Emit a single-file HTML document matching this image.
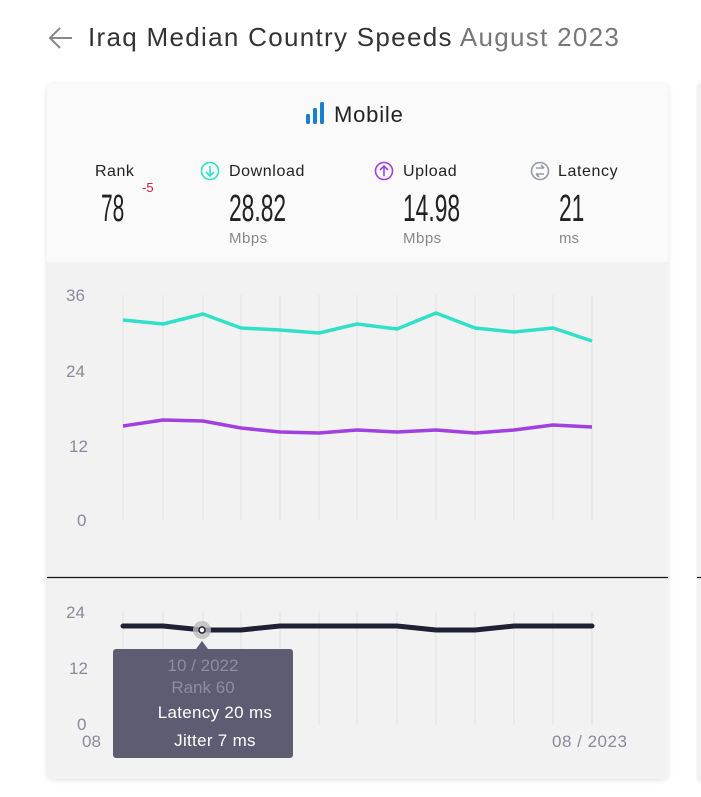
<!DOCTYPE html>
<html><head><meta charset="utf-8"><style>
body{margin:0;width:701px;height:797px;background:#fff;font-family:"Liberation Sans",sans-serif;overflow:hidden;position:relative}
.t{position:absolute;white-space:nowrap}
</style></head><body>
<svg width="701" height="797" style="position:absolute;left:0;top:0">
<defs><filter id="sh" x="-5%" y="-5%" width="110%" height="110%"><feDropShadow dx="0" dy="1" stdDeviation="3" flood-opacity="0.12"/></filter></defs>
<path d="M72 38H50M60 28L50 38L60 48" stroke="#888" stroke-width="2" fill="none"/>
<rect x="47" y="84" width="621" height="695" rx="6" fill="#f2f2f2" filter="url(#sh)"/>
<path d="M47 262V90a6 6 0 0 1 6-6h609a6 6 0 0 1 6 6v172z" fill="#fafafa"/>
<rect x="697" y="84" width="10" height="695" fill="#f2f2f2" filter="url(#sh)"/>
<line x1="47" y1="577.5" x2="668" y2="577.5" stroke="#111" stroke-width="1.2"/>
<line x1="697" y1="577.5" x2="701" y2="577.5" stroke="#111" stroke-width="1.2"/>
<g stroke="#e2e2e2" stroke-width="1">
<path d="M123 295V520M163 295V520M203 295V520M241 295V520M280 295V520M319 295V520M357 295V520M397 295V520M436 295V520M475 295V520M514 295V520M553 295V520M592 295V520"/>
<path d="M123 612V725M163 612V725M203 612V725M241 612V725M280 612V725M319 612V725M357 612V725M397 612V725M436 612V725M475 612V725M514 612V725M553 612V725M592 612V725"/>
</g>
<g font-size="17" fill="#8a8a9c">
<text x="66" y="301">36</text><text x="66" y="377">24</text><text x="69" y="452">12</text><text x="77" y="526">0</text>
<text x="66" y="618">24</text><text x="69" y="674">12</text><text x="77" y="730">0</text>
<text x="552" y="747" letter-spacing="0.5">08 / 2023</text><text x="82" y="747">08</text>
</g>
<polyline fill="none" stroke="#30e0c8" stroke-width="3.5" stroke-linejoin="round" points="123,320 163,324 203,314 241,328 280,330 319,333 357,324 397,329 436,313 475,328 514,332 553,328 592,341"/>
<polyline fill="none" stroke="#a040e0" stroke-width="3.5" stroke-linejoin="round" points="123,426 163,420 203,421 241,428 280,432 319,433 357,430 397,432 436,430 475,433 514,430 553,425 592,427"/>
<polyline fill="none" stroke="#1e2033" stroke-width="5" stroke-linejoin="round" stroke-linecap="round" points="123,626 163,626 203,630 241,630 280,626 319,626 357,626 397,626 436,630 475,630 514,626 553,626 592,626"/>
<circle cx="202" cy="630" r="9" fill="#bbb" opacity="0.8"/>
<circle cx="202" cy="630" r="3" fill="#fff" stroke="#1e2033" stroke-width="1.5"/>
<path d="M196 649L202 641L208 649z" fill="#5d5c72"/>
<rect x="113" y="649" width="180" height="109" rx="3" fill="#5d5c72"/>
<text x="203" y="671" font-size="17" fill="#8e8da2" text-anchor="middle">10 / 2022</text>
<text x="203" y="693" font-size="17" fill="#8e8da2" text-anchor="middle">Rank 60</text>
<text x="215" y="718" font-size="17" fill="#fff" text-anchor="middle" letter-spacing="0.3">Latency 20 ms</text>
<text x="215" y="746" font-size="17" fill="#fff" text-anchor="middle" letter-spacing="0.3">Jitter 7 ms</text>
<g fill="#1a7fd0"><rect x="306" y="114" width="4" height="10" rx="1.5"/><rect x="313" y="108" width="4" height="16" rx="1.5"/><rect x="320" y="102" width="4" height="22" rx="1.5"/></g>
<circle cx="210" cy="171" r="8.5" fill="none" stroke="#30e0c8" stroke-width="1.6"/><path d="M210 166V176M206 172L210 176L214 172" stroke="#30e0c8" stroke-width="1.6" fill="none"/>
<circle cx="384" cy="171" r="8.5" fill="none" stroke="#a040e0" stroke-width="1.6"/><path d="M384 176V166M380 170L384 166L388 170" stroke="#a040e0" stroke-width="1.6" fill="none"/>
<circle cx="540" cy="171" r="8.5" fill="none" stroke="#999aaa" stroke-width="1.6"/><path d="M536 168H544M544 168L541 165M544 174H536M536 174L539 177" stroke="#999aaa" stroke-width="1.6" fill="none"/>
</svg>
<div class="t" style="left:88px;top:22px;font-size:26px;color:#333;letter-spacing:1.3px">Iraq Median Country Speeds <span style="color:#777">August 2023</span></div>
<div class="t" style="left:334px;top:102px;font-size:22px;color:#222;letter-spacing:0.8px">Mobile</div>
<div class="t" style="left:95px;top:163px;font-size:16px;color:#222;letter-spacing:0.5px">Rank</div>
<div class="t" style="left:229px;top:163px;font-size:16px;color:#222;letter-spacing:0.6px">Download</div>
<div class="t" style="left:403px;top:163px;font-size:16px;color:#222;letter-spacing:0.6px">Upload</div>
<div class="t" style="left:558px;top:163px;font-size:16px;color:#222;letter-spacing:0.6px">Latency</div>
<div class="t" style="left:142px;top:180px;font-size:13px;color:#d02040">-5</div>
<div class="t" style="left:101px;top:188px;font-size:38px;color:#222;transform:scaleX(0.55);transform-origin:left">78</div>
<div class="t" style="left:229px;top:188px;font-size:38px;color:#222;transform:scaleX(0.6);transform-origin:left">28.82</div>
<div class="t" style="left:403px;top:188px;font-size:38px;color:#222;transform:scaleX(0.6);transform-origin:left">14.98</div>
<div class="t" style="left:559px;top:188px;font-size:38px;color:#222;transform:scaleX(0.6);transform-origin:left">21</div>
<div class="t" style="left:229px;top:230px;font-size:15px;color:#888;letter-spacing:0.5px">Mbps</div>
<div class="t" style="left:403px;top:230px;font-size:15px;color:#888;letter-spacing:0.5px">Mbps</div>
<div class="t" style="left:559px;top:230px;font-size:15px;color:#888">ms</div>
</body></html>
